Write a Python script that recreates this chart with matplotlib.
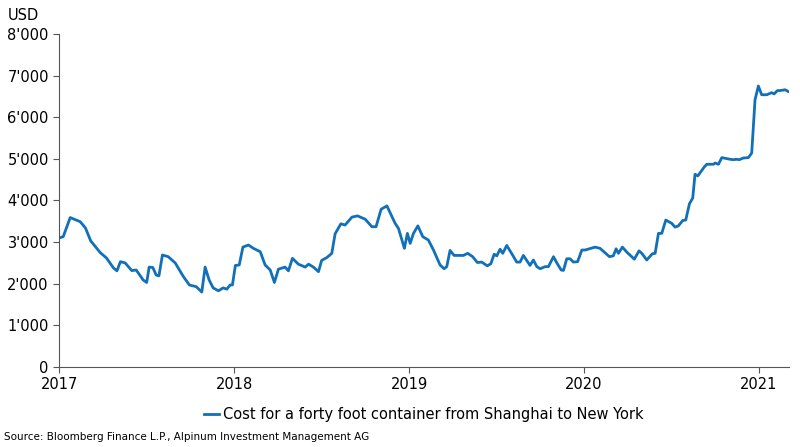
import matplotlib.pyplot as plt
from matplotlib.ticker import FuncFormatter

# ============================================================
# DATA (year fraction, USD per 40ft container)
# ============================================================

years = [
    2017.00, 2017.023, 2017.063, 2017.12, 2017.15, 2017.18, 2017.234, 2017.27,
    2017.31, 2017.33, 2017.35, 2017.377, 2017.415, 2017.44, 2017.48, 2017.50,
    2017.514, 2017.535, 2017.554, 2017.57, 2017.59, 2017.623, 2017.663, 2017.71,
    2017.744, 2017.783, 2017.815, 2017.834, 2017.857, 2017.88, 2017.91, 2017.937,
    2017.958, 2017.977, 2017.99, 2018.007, 2018.029, 2018.05, 2018.082, 2018.11,
    2018.149, 2018.177, 2018.206, 2018.23, 2018.253, 2018.291, 2018.31, 2018.333,
    2018.367, 2018.406, 2018.425, 2018.453, 2018.482, 2018.50, 2018.53, 2018.558,
    2018.577, 2018.61, 2018.634, 2018.673, 2018.705, 2018.749, 2018.787, 2018.811,
    2018.84, 2018.873, 2018.92, 2018.939, 2018.973, 2018.99, 2019.006, 2019.025,
    2019.05, 2019.078, 2019.11, 2019.139, 2019.177, 2019.20, 2019.215, 2019.234,
    2019.257, 2019.31, 2019.335, 2019.363, 2019.39, 2019.415, 2019.447, 2019.467,
    2019.486, 2019.501, 2019.52, 2019.535, 2019.558, 2019.587, 2019.615, 2019.634,
    2019.653, 2019.691, 2019.71, 2019.73, 2019.749, 2019.777, 2019.796, 2019.825,
    2019.847, 2019.869, 2019.882, 2019.901, 2019.92, 2019.939, 2019.963, 2019.987,
    2020.006, 2020.063, 2020.091, 2020.145, 2020.167, 2020.183, 2020.196, 2020.219,
    2020.244, 2020.287, 2020.314, 2020.33, 2020.358, 2020.39, 2020.406, 2020.425,
    2020.444, 2020.467, 2020.501, 2020.52, 2020.539, 2020.564, 2020.581, 2020.602,
    2020.621, 2020.634, 2020.65, 2020.686, 2020.701, 2020.739, 2020.749, 2020.768,
    2020.787, 2020.834, 2020.853, 2020.872, 2020.887, 2020.91, 2020.939, 2020.958,
    2020.977, 2020.996, 2021.015, 2021.044, 2021.072, 2021.086, 2021.105, 2021.12,
    2021.149, 2021.166,
]

cost_usd = [
    3100, 3130, 3590, 3490, 3340, 3030, 2750, 2620,
    2380, 2310, 2530, 2500, 2315, 2330, 2090, 2030,
    2400, 2390, 2210, 2190, 2690, 2650, 2500, 2170,
    1970, 1930, 1800, 2400, 2090, 1900, 1830, 1900,
    1870, 1970, 1970, 2440, 2450, 2880, 2930, 2850,
    2770, 2450, 2330, 2030, 2350, 2400, 2310, 2610,
    2470, 2400, 2470, 2400, 2290, 2560, 2630, 2730,
    3200, 3440, 3410, 3600, 3630, 3550, 3370, 3370,
    3790, 3870, 3450, 3330, 2850, 3210, 2970, 3210,
    3390, 3130, 3050, 2810, 2450, 2360, 2410, 2800,
    2680, 2680, 2730, 2650, 2510, 2520, 2430, 2480,
    2710, 2670, 2830, 2730, 2920, 2720, 2520, 2520,
    2680, 2440, 2570, 2410, 2360, 2410, 2410, 2650,
    2480, 2330, 2320, 2600, 2600, 2520, 2530, 2810,
    2810, 2880, 2850, 2650, 2670, 2840, 2730, 2880,
    2760, 2590, 2790, 2730, 2570, 2720, 2730, 3210,
    3210, 3530, 3450, 3360, 3390, 3520, 3530, 3920,
    4060, 4630, 4590, 4800, 4870, 4870, 4900, 4870,
    5030, 4990, 4980, 4990, 4980, 5020, 5030, 5140,
    6420, 6750, 6540, 6540, 6590, 6560, 6640, 6640,
    6660, 6620,
]

y_ticks = [0, 1000, 2000, 3000, 4000, 5000, 6000, 7000, 8000]
x_ticks = [2017, 2018, 2019, 2020, 2021]

# ============================================================
# PLOT
# ============================================================

fig = plt.figure(figsize=(8, 4.47), dpi=100)
ax = fig.add_axes([0.074, 0.179, 0.912, 0.745])

ax.plot(years, cost_usd, color='#1170b8', linewidth=2,
        label='Cost for a forty foot container from Shanghai to New York')

ax.set_xlim(2017, 2021.17)
ax.set_ylim(0, 8000)
ax.set_xticks(x_ticks)
ax.set_yticks(y_ticks)
ax.yaxis.set_major_formatter(FuncFormatter(lambda v, p: f"{int(v):,}".replace(',', "'")))

for s in ['top', 'right']:
    ax.spines[s].set_visible(False)
for s in ['left', 'bottom']:
    ax.spines[s].set_color('#555555')
ax.tick_params(labelsize=10.5, color='#555555', length=4)

fig.text(0.01, 0.955, 'USD', fontsize=10.5)

ax.legend(loc='upper center', bbox_to_anchor=(0.5, -0.08), frameon=False,
          fontsize=10.5, handlelength=1.0, handletextpad=0.3)

fig.text(0.005, 0.015, 'Source: Bloomberg Finance L.P., Alpinum Investment Management AG',
         fontsize=7.5)

plt.savefig('out.png', dpi=100)
